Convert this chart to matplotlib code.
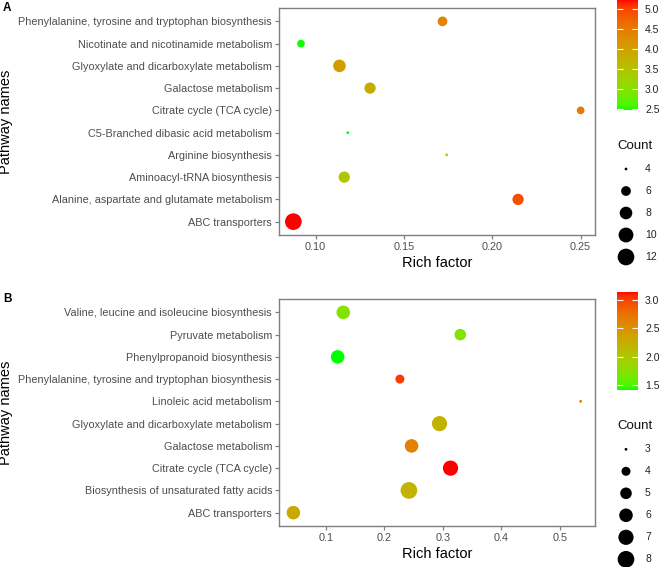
import numpy as np
import matplotlib
matplotlib.use('Agg')
import matplotlib.pyplot as plt
from matplotlib.colors import ListedColormap, Normalize

plt.rcParams['font.family'] = ['Liberation Sans', 'DejaVu Sans']

# ---- panel A data (bottom -> top) ----
pathways_a = ['ABC transporters',
              'Alanine, aspartate and glutamate metabolism',
              'Aminoacyl-tRNA biosynthesis',
              'Arginine biosynthesis',
              'C5-Branched dibasic acid metabolism',
              'Citrate cycle (TCA cycle)',
              'Galactose metabolism',
              'Glyoxylate and dicarboxylate metabolism',
              'Nicotinate and nicotinamide metabolism',
              'Phenylalanine, tyrosine and tryptophan biosynthesis']
rich_a = [0.0874, 0.2146, 0.1162, 0.1742, 0.1182, 0.2500, 0.1308, 0.1135, 0.0917, 0.1718]
count_a = [12, 7, 7, 4, 4, 5, 7, 8, 5, 6]
color_a = [5.23, 4.9, 3.45, 3.0, 2.48, 4.5, 3.85, 4.05, 2.5, 4.4]
cticks_a = [2.5, 3.0, 3.5, 4.0, 4.5, 5.0]
xticks_a = [0.10, 0.15, 0.20, 0.25]
count_breaks_a = [4, 6, 8, 10, 12]

# ---- panel B data (bottom -> top) ----
pathways_b = ['ABC transporters',
              'Biosynthesis of unsaturated fatty acids',
              'Citrate cycle (TCA cycle)',
              'Galactose metabolism',
              'Glyoxylate and dicarboxylate metabolism',
              'Linoleic acid metabolism',
              'Phenylalanine, tyrosine and tryptophan biosynthesis',
              'Phenylpropanoid biosynthesis',
              'Pyruvate metabolism',
              'Valine, leucine and isoleucine biosynthesis']
rich_b = [0.0447, 0.2422, 0.3133, 0.2467, 0.2945, 0.5357, 0.2268, 0.1204, 0.3300, 0.1300]
count_b = [6, 8, 7, 6, 7, 3, 4, 6, 5, 6]
color_b = [2.3, 2.2, 3.14, 2.62, 2.2, 2.65, 3.02, 1.41, 1.72, 1.72]
cticks_b = [1.5, 2.0, 2.5, 3.0]
xticks_b = [0.1, 0.2, 0.3, 0.4, 0.5]
count_breaks_b = [3, 4, 5, 6, 7, 8]


# green -> red gradient interpolated in Lab (like ggplot)
def srgb_to_lab(rgb):
    rgb = np.asarray(rgb, float)
    lin = np.where(rgb <= 0.04045, rgb / 12.92, ((rgb + 0.055) / 1.055) ** 2.4)
    M = np.array([[0.4124, 0.3576, 0.1805],
                  [0.2126, 0.7152, 0.0722],
                  [0.0193, 0.1192, 0.9505]])
    xyz = M @ lin / np.array([0.95047, 1.0, 1.08883])
    f = np.where(xyz > 0.008856, np.cbrt(xyz), 7.787 * xyz + 16 / 116)
    return np.array([116 * f[1] - 16, 500 * (f[0] - f[1]), 200 * (f[1] - f[2])])


def lab_to_srgb(lab):
    L, a, b = lab
    fy = (L + 16) / 116
    fx = fy + a / 500
    fz = fy - b / 200
    f = np.array([fx, fy, fz])
    xyz = np.where(f ** 3 > 0.008856, f ** 3, (f - 16 / 116) / 7.787) * np.array([0.95047, 1.0, 1.08883])
    Minv = np.array([[3.2406, -1.5372, -0.4986],
                     [-0.9689, 1.8758, 0.0415],
                     [0.0557, -0.2040, 1.0570]])
    lin = np.clip(Minv @ xyz, 0, 1)
    rgb = np.where(lin <= 0.0031308, 12.92 * lin, 1.055 * lin ** (1 / 2.4) - 0.055)
    return np.clip(rgb, 0, 1)


lab_lo = srgb_to_lab([0, 1, 0])
lab_hi = srgb_to_lab([1, 0, 0])
cmap = ListedColormap([lab_to_srgb(lab_lo + t * (lab_hi - lab_lo)) for t in np.linspace(0, 1, 256)])


def dot_size(c, cmin, cmax):
    d = 2.78 * (1 + 5 * np.sqrt((np.asarray(c, float) - cmin) / (cmax - cmin)))  # px
    return (d * 0.72) ** 2


W, H = 662, 567
fig = plt.figure(figsize=(W / 100, H / 100), dpi=100)
grey = '#7f7f7f'
txt = '#4d4d4d'

# overlay for panel tags and size legends, in pixel units
ov = fig.add_axes([0, 0, 1, 1], zorder=-1)
ov.set_xlim(0, W)
ov.set_ylim(H, 0)
ov.axis('off')


def panel(top, names, rich, count, col, xticks, xfmt, cticks, cbar_top, cbar_h, breaks, leg_y, tag):
    ax = fig.add_axes([279 / W, 1 - (top + 227) / H, 316 / W, 227 / H])
    norm = Normalize(min(col), max(col))
    cmin, cmax = min(count), max(count)
    y = np.arange(len(names))
    sc = ax.scatter(rich, y, s=dot_size(count, cmin, cmax), c=col, cmap=cmap, norm=norm,
                    linewidths=0, zorder=3)
    ax.set_ylim(-0.6, len(names) - 0.4)
    ax.set_yticks(y)
    ax.set_yticklabels(names)
    ax.set_xticks(xticks)
    ax.set_xticklabels([xfmt % v for v in xticks])
    ax.tick_params(length=3, width=0.9, color=grey, labelsize=7.8, labelcolor=txt, pad=2)
    for s in ax.spines.values():
        s.set_color(grey)
        s.set_linewidth(1.0)
    ax.set_xlabel('Rich factor', fontsize=10.5, labelpad=3)
    ax.set_ylabel('Pathway names', fontsize=10.5)
    ax.yaxis.set_label_coords(-0.842, 0.5)

    cax = fig.add_axes([617 / W, 1 - (cbar_top + cbar_h) / H, 21 / W, cbar_h / H])
    cb = fig.colorbar(sc, cax=cax)
    cb.outline.set_visible(False)
    cb.set_ticks(cticks)
    cb.set_ticklabels(['%.1f' % v for v in cticks])
    cax.yaxis.set_ticks_position('both')
    cax.tick_params(direction='in', length=4, width=0.8, color='white', labelsize=7.5,
                    labelcolor='#222222', pad=5, labelleft=False, labelright=True)

    ov.text(617, leg_y - 23, 'Count', fontsize=9.5, va='center', ha='left', color='#111111')
    ly = leg_y + 22 * np.arange(len(breaks))
    ov.scatter(np.full(len(breaks), 626), ly, s=dot_size(breaks, cmin, cmax), c='black', linewidths=0)
    for b, yy in zip(breaks, ly):
        ov.text(645, yy, str(b), fontsize=7.5, va='center', ha='left', color='#222222')
    ov.text(3, top, tag, fontsize=8.5, fontweight='bold', va='center', ha='left')
    return ax


panel(8, pathways_a, rich_a, count_a, color_a, xticks_a, '%.2f', cticks_a, 0, 110,
      count_breaks_a, 169, 'A')
panel(299, pathways_b, rich_b, count_b, color_b, xticks_b, '%.1f', cticks_b, 292, 98,
      count_breaks_b, 449.3, 'B')

fig.savefig('out.png', dpi=100)
